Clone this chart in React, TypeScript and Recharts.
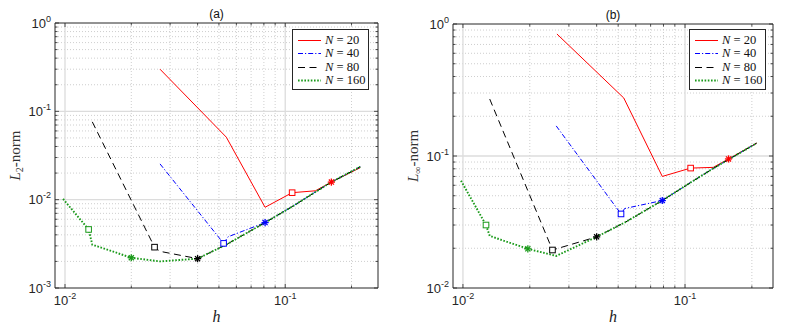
import React from "react";
import { LineChart, Line, XAxis, YAxis, ReferenceLine, Legend } from "recharts";

// ---------- data ----------
const legendN = [20, 40, 80, 160];

// Panel (a): L2-norm
const hRedA = [0.027, 0.054, 0.081, 0.1075, 0.137, 0.162, 0.219];
const vRedA = [0.3, 0.051, 0.0082, 0.012, 0.0126, 0.0158, 0.023];
const hBlueA = [0.027, 0.0525, 0.055, 0.081, 0.108, 0.137, 0.162, 0.219];
const vBlueA = [0.0254, 0.0032, 0.0038, 0.0055, 0.0084, 0.0122, 0.0158, 0.0235];
const hBlackA = [0.0133, 0.0255, 0.027, 0.04, 0.054, 0.081, 0.108, 0.137, 0.162, 0.219];
const vBlackA = [0.076, 0.0029, 0.0026, 0.00215, 0.0031, 0.0055, 0.0084, 0.0122, 0.0158, 0.0235];
const hGreenA = [0.0098, 0.0128, 0.0133, 0.02, 0.027, 0.04, 0.054, 0.081, 0.108, 0.137, 0.162, 0.219];
const vGreenA = [0.0102, 0.0046, 0.0031, 0.0022, 0.002, 0.00215, 0.0031, 0.0055, 0.0084, 0.0122, 0.0158, 0.0235];

// Panel (b): L-infinity norm
const hRedB = [0.0265, 0.053, 0.079, 0.106, 0.134, 0.157, 0.21];
const vRedB = [0.84, 0.275, 0.07, 0.081, 0.082, 0.095, 0.125];
const hBlueB = [0.0263, 0.0515, 0.0535, 0.079, 0.106, 0.134, 0.157, 0.21];
const vBlueB = [0.169, 0.0364, 0.04, 0.046, 0.063, 0.0805, 0.094, 0.125];
const hBlackB = [0.0132, 0.0253, 0.04, 0.054, 0.079, 0.106, 0.134, 0.157, 0.21];
const vBlackB = [0.27, 0.0194, 0.0244, 0.0316, 0.046, 0.063, 0.0805, 0.094, 0.125];
const hGreenB = [0.0098, 0.0127, 0.0132, 0.0196, 0.0263, 0.04, 0.054, 0.079, 0.106, 0.134, 0.157, 0.21];
const vGreenB = [0.065, 0.03, 0.0248, 0.0198, 0.0175, 0.0244, 0.0316, 0.046, 0.063, 0.0805, 0.094, 0.125];

// marker indices (square, star) per series
const markRedA = [3, 5];
const markBlueA = [1, 3];
const markBlackA = [1, 3];
const markGreenA = [1, 3];
const markRedB = [3, 5];
const markBlueB = [1, 3];
const markBlackB = [1, 2];
const markGreenB = [1, 3];

// ticks
const xMajor = [0.01, 0.1];
const xMinor = [0.02, 0.03, 0.04, 0.05, 0.06, 0.07, 0.08, 0.09, 0.2];
const yMajorA = [0.001, 0.01, 0.1, 1];
const yMinorA = [0.002, 0.003, 0.004, 0.005, 0.006, 0.007, 0.008, 0.009, 0.02, 0.03, 0.04, 0.05, 0.06, 0.07, 0.08, 0.09, 0.2, 0.3, 0.4, 0.5, 0.6, 0.7, 0.8, 0.9];
const yMajorB = [0.01, 0.1, 1];
const yMinorB = [0.02, 0.03, 0.04, 0.05, 0.06, 0.07, 0.08, 0.09, 0.2, 0.3, 0.4, 0.5, 0.6, 0.7, 0.8, 0.9];

// ---------- styles ----------
const STYLES = [
  { color: "#ff0000", dash: undefined, width: 1 },
  { color: "#0000ff", dash: "5 2 1.2 2", width: 1 },
  { color: "#000000", dash: "7 4.5", width: 1 },
  { color: "#1a9a1a", dash: "1.6 1.6", width: 1.9 },
];
const AX = "#262626";
const SANS = "'Liberation Sans', Arial, Helvetica, sans-serif";
const SERIF = "'Liberation Serif', 'Times New Roman', serif";

const zip = (h: number[], v: number[]) => h.map((x, i) => ({ h: x, v: v[i] }));
const isMajor = (v: number) => {
  const l = Math.log10(v);
  return Math.abs(l - Math.round(l)) < 1e-6;
};
const expOf = (v: number) => String(Math.round(Math.log10(v)));

const BottomTick = (p: any) => {
  const { x, y, payload } = p;
  const v = payload.value;
  const maj = isMajor(v);
  return (
    <g>
      <line x1={x} y1={y} x2={x} y2={y - (maj ? 4 : 2.5)} stroke={AX} strokeWidth={0.8} />
      {maj && (
        <text x={x} y={y + 17} textAnchor="middle" fontFamily={SANS} fontSize={13} fill={AX}>
          <tspan>10</tspan>
          <tspan dy={-6} fontSize={9}>{expOf(v)}</tspan>
        </text>
      )}
    </g>
  );
};
const TopTick = (p: any) => {
  const { x, y, payload } = p;
  const maj = isMajor(payload.value);
  return <line x1={x} y1={y} x2={x} y2={y + (maj ? 4 : 2.5)} stroke={AX} strokeWidth={0.8} />;
};
const LeftTick = (p: any) => {
  const { x, y, payload } = p;
  const v = payload.value;
  const maj = isMajor(v);
  return (
    <g>
      <line x1={x} y1={y} x2={x + (maj ? 4 : 2.5)} y2={y} stroke={AX} strokeWidth={0.8} />
      {maj && (
        <text x={x - 4} y={y + 4.6} textAnchor="end" fontFamily={SANS} fontSize={13} fill={AX}>
          <tspan>10</tspan>
          <tspan dy={-6} fontSize={9}>{expOf(v)}</tspan>
        </text>
      )}
    </g>
  );
};
const RightTick = (p: any) => {
  const { x, y, payload } = p;
  const maj = isMajor(payload.value);
  return <line x1={x} y1={y} x2={x - (maj ? 4 : 2.5)} y2={y} stroke={AX} strokeWidth={0.8} />;
};

const TitleLabel = (p: any) => {
  const vb = p.viewBox || { x: 0, y: 0, width: 0 };
  return (
    <text x={vb.x + vb.width / 2} y={vb.y - 4.5} textAnchor="middle" fontFamily={SANS} fontSize={12} fill="#111">
      {p.title}
    </text>
  );
};
const HLabel = (p: any) => {
  const vb = p.viewBox || { x: 0, y: 0, width: 0 };
  return (
    <text x={vb.x + vb.width / 2} y={vb.y + 34} textAnchor="middle" fontFamily={SERIF} fontStyle="italic" fontSize={16} fill="#222">
      h
    </text>
  );
};
const YLabel = (p: any) => {
  const vb = p.viewBox || { x: 0, y: 0, width: 0, height: 0 };
  const cx = vb.x + vb.width - 40;
  const cy = vb.y + vb.height / 2;
  return (
    <text x={cx} y={cy + 5} transform={`rotate(-90, ${cx}, ${cy})`} textAnchor="middle" fontFamily={SERIF} fontSize={15} fill="#333">
      <tspan fontStyle="italic">L</tspan>
      <tspan dy={3} fontSize={10}>{p.sub}</tspan>
      <tspan dy={-3}>-norm</tspan>
    </text>
  );
};

const makeDot = (color: string, mark: number[]) => (p: any) => {
  const { cx, cy, index } = p;
  const key = `d${index}`;
  if (cx == null || cy == null) return <g key={key} />;
  if (index === mark[0]) {
    return <rect key={key} x={cx - 2.8} y={cy - 2.8} width={5.6} height={5.6} fill="#fff" stroke={color} strokeWidth={1} />;
  }
  if (index === mark[1]) {
    const r = 3.6;
    const d = r * 0.707;
    return (
      <g key={key} stroke={color} strokeWidth={1.3}>
        <line x1={cx - r} y1={cy} x2={cx + r} y2={cy} />
        <line x1={cx} y1={cy - r} x2={cx} y2={cy + r} />
        <line x1={cx - d} y1={cy - d} x2={cx + d} y2={cy + d} />
        <line x1={cx - d} y1={cy + d} x2={cx + d} y2={cy - d} />
      </g>
    );
  }
  return <g key={key} />;
};

const LegendBox = () => (
  <div
    style={{
      boxSizing: "border-box",
      width: 77,
      height: 61,
      border: `1px solid ${AX}`,
      background: "#fff",
      padding: "4px 0 0 4px",
    }}
  >
    {legendN.map((n, i) => (
      <div key={n} style={{ display: "flex", alignItems: "center", height: 13.3 }}>
        <svg width={25} height={13} style={{ display: "block" }}>
          <line x1={1} y1={6.5} x2={24} y2={6.5} stroke={STYLES[i].color} strokeWidth={STYLES[i].width} strokeDasharray={STYLES[i].dash} />
        </svg>
        <span style={{ fontFamily: SERIF, fontSize: 12.5, color: "#111", marginLeft: 3, lineHeight: "13px", whiteSpace: "nowrap" }}>
          <i>N</i> = {n}
        </span>
      </div>
    ))}
  </div>
);

type SeriesDef = { h: number[]; v: number[]; mark: number[] };

function Panel(props: {
  title: string;
  sub: string;
  series: SeriesDef[];
  xDomain: [number, number];
  yDomain: [number, number];
  yMajor: number[];
  yMinor: number[];
  yAxisW: number;
  margin: { top: number; right: number; bottom: number; left: number };
  legendPos: { left: number; top: number };
}) {
  const { title, sub, series, xDomain, yDomain, yMajor, yMinor, yAxisW, margin, legendPos } = props;
  const xTicks = [...xMajor, ...xMinor].sort((a, b) => a - b);
  const yTicks = [...yMajor, ...yMinor].sort((a, b) => a - b);
  const innerMajorY = yMajor.filter((v) => v > yDomain[0] * 1.0001 && v < yDomain[1] * 0.9999);
  return (
    <LineChart width={393} height={334} margin={margin}>
      <XAxis
        xAxisId="b"
        dataKey="h"
        type="number"
        scale="log"
        domain={xDomain}
        allowDataOverflow
        ticks={xTicks}
        interval={0}
        tick={<BottomTick />}
        tickSize={0}
        tickMargin={0}
        tickLine={false}
        axisLine={{ stroke: AX, strokeWidth: 1 }}
        height={30}
        label={<HLabel />}
      />
      <XAxis
        xAxisId="t"
        dataKey="h"
        type="number"
        scale="log"
        orientation="top"
        domain={xDomain}
        allowDataOverflow
        ticks={xTicks}
        interval={0}
        tick={<TopTick />}
        tickSize={0}
        tickMargin={0}
        tickLine={false}
        axisLine={{ stroke: AX, strokeWidth: 1 }}
        height={1}
        label={<TitleLabel title={title} />}
      />
      <YAxis
        yAxisId="l"
        type="number"
        scale="log"
        domain={yDomain}
        allowDataOverflow
        ticks={yTicks}
        interval={0}
        tick={<LeftTick />}
        tickSize={0}
        tickMargin={0}
        tickLine={false}
        axisLine={{ stroke: AX, strokeWidth: 1 }}
        width={yAxisW}
        label={<YLabel sub={sub} />}
      />
      <YAxis
        yAxisId="r"
        orientation="right"
        type="number"
        scale="log"
        domain={yDomain}
        allowDataOverflow
        ticks={yTicks}
        interval={0}
        tick={<RightTick />}
        tickSize={0}
        tickMargin={0}
        tickLine={false}
        axisLine={{ stroke: AX, strokeWidth: 1 }}
        width={1}
      />
      {xMinor.map((v) => (
        <ReferenceLine key={"xm" + v} x={v} xAxisId="b" yAxisId="l" stroke="#c2c2c2" strokeWidth={0.8} strokeDasharray="1 2" />
      ))}
      {yMinor.map((v) => (
        <ReferenceLine key={"ym" + v} y={v} xAxisId="b" yAxisId="l" stroke="#c2c2c2" strokeWidth={0.8} strokeDasharray="1 2" />
      ))}
      {xMajor.map((v) => (
        <ReferenceLine key={"xM" + v} x={v} xAxisId="b" yAxisId="l" stroke="#dcdcdc" strokeWidth={1.3} />
      ))}
      {innerMajorY.map((v) => (
        <ReferenceLine key={"yM" + v} y={v} xAxisId="b" yAxisId="l" stroke="#dcdcdc" strokeWidth={1.3} />
      ))}
      {series.map((s, i) => (
        <Line
          key={i}
          data={zip(s.h, s.v)}
          dataKey="v"
          name={`N = ${legendN[i]}`}
          xAxisId="b"
          yAxisId="l"
          type="linear"
          stroke={STYLES[i].color}
          strokeWidth={STYLES[i].width}
          strokeDasharray={STYLES[i].dash}
          dot={makeDot(STYLES[i].color, s.mark)}
          activeDot={false}
          isAnimationActive={false}
        />
      ))}
      <Legend
        layout="vertical"
        align="center"
        verticalAlign="middle"
        wrapperStyle={{ position: "absolute", left: legendPos.left, top: legendPos.top, width: 77, height: 61 }}
        content={() => <LegendBox />}
      />
    </LineChart>
  );
}

export default function App() {
  const seriesA: SeriesDef[] = [
    { h: hRedA, v: vRedA, mark: markRedA },
    { h: hBlueA, v: vBlueA, mark: markBlueA },
    { h: hBlackA, v: vBlackA, mark: markBlackA },
    { h: hGreenA, v: vGreenA, mark: markGreenA },
  ];
  const seriesB: SeriesDef[] = [
    { h: hRedB, v: vRedB, mark: markRedB },
    { h: hBlueB, v: vBlueB, mark: markBlueB },
    { h: hBlackB, v: vBlackB, mark: markBlackB },
    { h: hGreenB, v: vGreenB, mark: markGreenB },
  ];
  return (
    <div style={{ position: "absolute", left: 0, top: 0, width: 786, height: 334, background: "#fff" }}>
      <div style={{ position: "absolute", left: 0, top: 0 }}>
        <Panel
          title="(a)"
          sub="2"
          series={seriesA}
          xDomain={[0.009006, 0.2638]}
          yDomain={[0.001, 1]}
          yMajor={yMajorA}
          yMinor={yMinorA}
          yAxisW={55}
          margin={{ top: 22, right: 14, bottom: 16, left: 0 }}
          legendPos={{ left: 292, top: 29 }}
        />
      </div>
      <div style={{ position: "absolute", left: 393, top: 0 }}>
        <Panel
          title="(b)"
          sub="∞"
          series={seriesB}
          xDomain={[0.00902, 0.249]}
          yDomain={[0.01, 1]}
          yMajor={yMajorB}
          yMinor={yMinorB}
          yAxisW={60}
          margin={{ top: 23, right: 12, bottom: 16, left: 0 }}
          legendPos={{ left: 296, top: 29 }}
        />
      </div>
    </div>
  );
}
